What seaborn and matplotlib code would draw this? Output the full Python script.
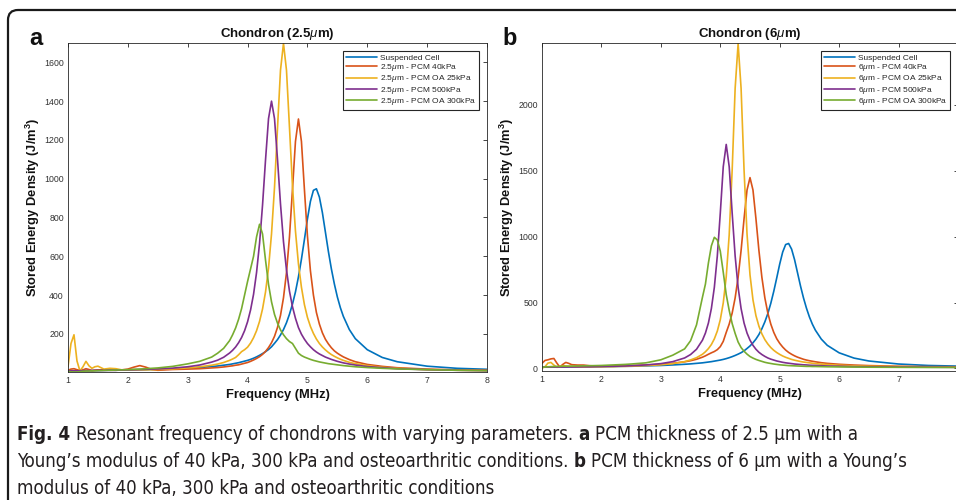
import matplotlib
matplotlib.use("Agg")
import matplotlib.pyplot as plt
import seaborn as sns
import pandas as pd
from matplotlib import font_manager
from matplotlib.patches import FancyBboxPatch
from matplotlib.transforms import IdentityTransform

# frequency grid (MHz), denser around the resonances
freq = [1.0, 1.05, 1.1, 1.15, 1.2, 1.25, 1.3, 1.35, 1.4, 1.45, 1.5, 1.6, 1.7, 1.8, 1.9, 2.0, 2.1, 2.2, 2.3, 2.4, 2.5,
        2.75, 3.0, 3.2, 3.4, 3.5, 3.6,
        3.7, 3.75, 3.8, 3.85, 3.9, 3.95, 4.0, 4.05, 4.1, 4.15, 4.2, 4.25, 4.3, 4.35, 4.4, 4.45, 4.5, 4.55, 4.6, 4.65,
        4.7, 4.75, 4.8, 4.85, 4.9, 4.95, 5.0, 5.05, 5.1, 5.15, 5.2, 5.25, 5.3, 5.35, 5.4, 5.45, 5.5, 5.55, 5.6,
        5.7, 5.8, 6.0, 6.25, 6.5, 7.0, 7.5, 8.0]

# stored energy density (J/m^3)
suspended = [10, 10, 10, 10, 10, 11, 11, 11, 11, 11, 11, 12, 12, 12, 13, 13, 14, 14, 15, 16, 16,
             19, 22, 26, 31, 34, 38,
             42, 45, 48, 51, 55, 59, 63, 68, 74, 81, 89, 98, 108, 119, 133, 151, 170, 194, 222, 257,
             301, 353, 416, 494, 585, 687, 792, 883, 940, 948, 905, 825, 725, 625, 535, 457, 390, 335, 290,
             222, 175, 118, 78, 56, 33, 22, 17]

a_pcm40 = [12, 18, 20, 15, 10, 14, 20, 16, 10, 12, 14, 14, 12, 12, 14, 18, 28, 36, 28, 16, 12,
           16, 18, 20, 24, 26, 29,
           33, 35, 38, 40, 44, 48, 52, 58, 65, 73, 82, 94, 109, 129, 154, 187, 233, 295, 386, 515,
           700, 943, 1192, 1308, 1192, 943, 705, 525, 400, 310, 250, 205, 172, 148, 128, 112, 100, 90, 81,
           67, 56, 42, 32, 25, 18, 14, 12]
a_oa25 = [30, 150, 195, 60, 8, 30, 58, 35, 22, 30, 33, 18, 22, 20, 14, 14, 14, 14, 14, 15, 16,
          19, 24, 30, 38, 44, 52,
          63, 70, 78, 92, 108, 118, 131, 152, 180, 216, 264, 328, 416, 539, 715, 955, 1261, 1560, 1698, 1560,
          1265, 965, 730, 560, 440, 350, 285, 238, 202, 173, 150, 132, 117, 104, 93, 84, 76, 69, 63,
          53, 46, 36, 27, 22, 15, 12, 10]
a_pcm500 = [9, 9, 9, 9, 10, 10, 10, 10, 10, 11, 11, 11, 12, 12, 13, 14, 15, 16, 17, 18, 19,
            23, 30, 39, 54, 64, 79,
            101, 115, 132, 154, 181, 216, 262, 323, 404, 516, 666, 864, 1097, 1310, 1400, 1310, 1100, 870, 675, 530,
            420, 340, 280, 232, 198, 172, 150, 133, 118, 106, 96, 88, 80, 74, 68, 63, 58, 54, 50,
            44, 39, 31, 25, 20, 15, 12, 10]
a_oa300 = [6, 4, 3, 3, 5, 7, 8, 8, 9, 9, 10, 11, 12, 13, 14, 15, 17, 18, 20, 22, 24,
           32, 45, 58, 80, 100, 125,
           165, 195, 230, 275, 330, 400, 470, 535, 600, 700, 765, 715, 580, 455, 365, 300, 255, 220, 195, 175,
           160, 150, 125, 100, 88, 80, 74, 68, 63, 59, 55, 52, 49, 46, 44, 42, 40, 38, 36,
           33, 30, 26, 22, 19, 15, 12, 10]

b_pcm40 = [38, 60, 65, 72, 75, 40, 10, 30, 45, 38, 28, 25, 25, 20, 18, 16, 17, 18, 19, 20, 21,
           25, 31, 38, 50, 58, 69,
           85, 95, 107, 118, 128, 142, 165, 205, 273, 336, 420, 535, 691, 895, 1136, 1354, 1448, 1354, 1136, 895,
           691, 535, 420, 336, 273, 225, 190, 162, 139, 121, 107, 95, 85, 77, 69, 63, 58, 54, 50,
           43, 38, 31, 25, 21, 16, 13, 12]
b_oa25 = [2, 12, 40, 45, 25, 8, 12, 20, 18, 15, 14, 11, 11, 11, 12, 12, 13, 13, 15, 15, 17,
          21, 27, 36, 51, 64, 81,
          107, 126, 150, 181, 224, 283, 369, 497, 696, 1014, 1506, 2126, 2465, 2126, 1506, 1020, 710, 520, 400, 320,
          262, 218, 185, 158, 137, 120, 106, 94, 84, 76, 68, 62, 57, 52, 48, 45, 42, 39, 36,
          32, 29, 24, 19, 16, 13, 11, 9]
b_pcm500 = [9, 9, 9, 9, 10, 10, 10, 10, 10, 11, 11, 11, 12, 12, 13, 14, 15, 16, 17, 18, 20,
            26, 36, 51, 79, 105, 145,
            214, 268, 344, 454, 615, 853, 1178, 1531, 1700, 1531, 1178, 853, 615, 454, 344, 268, 214, 175, 145, 122,
            105, 91, 79, 70, 63, 56, 51, 46, 42, 39, 36, 33, 31, 29, 27, 26, 24, 23, 22,
            20, 18, 16, 13, 12, 10, 9, 8]
b_oa300 = [8, 10, 12, 13, 14, 15, 15, 16, 16, 17, 17, 18, 19, 20, 21, 22, 24, 26, 28, 30, 33,
           42, 65, 100, 148, 210, 330,
           540, 640, 800, 930, 995, 975, 890, 730, 560, 440, 340, 265, 200, 158, 130, 108, 90, 78, 68, 60,
           53, 46, 41, 37, 33, 30, 27, 25, 23, 21, 20, 19, 18, 17, 16, 15, 15, 14, 14,
           13, 12, 11, 10, 9, 8, 7, 7]

labels_a = ['Suspended Cell', '2.5$\\mu$m - PCM 40kPa', '2.5$\\mu$m - PCM OA 25kPa',
            '2.5$\\mu$m - PCM 500kPa', '2.5$\\mu$m - PCM OA 300kPa']
labels_b = ['Suspended Cell', '6$\\mu$m - PCM 40kPa', '6$\\mu$m - PCM OA 25kPa',
            '6$\\mu$m - PCM 500kPa', '6$\\mu$m - PCM OA 300kPa']
colors = ['#0072BD', '#D95319', '#EDB120', '#7E2F8E', '#77AC30']

caption_lines = [
    [('Fig. 4', 'bold'), (' Resonant frequency of chondrons with varying parameters. ', 'normal'),
     ('a', 'bold'), (' PCM thickness of 2.5 \u00b5m with a', 'normal')],
    [('Young\u2019s modulus of 40 kPa, 300 kPa and osteoarthritic conditions. ', 'normal'),
     ('b', 'bold'), (' PCM thickness of 6 \u00b5m with a Young\u2019s', 'normal')],
    [('modulus of 40 kPa, 300 kPa and osteoarthritic conditions', 'normal')],
]

sns.set_theme(style="white")
plt.rcParams['font.family'] = ['Liberation Sans', 'DejaVu Sans']
plt.rcParams['mathtext.fontset'] = 'custom'
plt.rcParams['mathtext.it'] = 'Liberation Sans:italic'
plt.rcParams['mathtext.rm'] = 'Liberation Sans'
plt.rcParams['mathtext.bf'] = 'Liberation Sans:bold'

W, H = 956, 500
fig = plt.figure(figsize=(W / 100, H / 100), dpi=100)
ax_a = fig.add_axes([68 / W, 128 / H, 419 / W, 329 / H])
ax_b = fig.add_axes([542 / W, 129 / H, 416 / W, 328 / H])

ink = '#262626'


def draw_panel(ax, series, labels, title, ylim, yticks):
    df = pd.DataFrame({'freq': freq})
    for vals, lbl, col in zip(series, labels, colors):
        df['v'] = vals
        sns.lineplot(data=df, x='freq', y='v', color=col, label=lbl, linewidth=1.2, ax=ax)
    ax.set_xlim(1, 8)
    ax.set_ylim(*ylim)
    ax.set_xticks(range(1, 9))
    ax.set_yticks(yticks)
    ax.tick_params(direction='in', top=True, right=True, length=3, width=0.6,
                   colors=ink, labelsize=6.3, labelcolor='#333333', pad=3)
    for sp in ax.spines.values():
        sp.set_color(ink)
        sp.set_linewidth(0.6)
    ax.set_title(title, fontsize=9.5, fontweight='bold', pad=4, color='#111111')
    ax.set_xlabel('Frequency (MHz)', fontsize=9.3, fontweight='bold', color='#111111')
    ax.set_ylabel('Stored Energy Density (J/m$^{\\mathbf{3}}$)', fontsize=9.3, fontweight='bold', color='#111111')
    ax.xaxis.set_label_coords(0.5, -0.052)
    ax.yaxis.set_label_coords(-0.062, 0.5)
    leg = ax.legend(loc='upper right', fontsize=6, frameon=True, fancybox=False, edgecolor=ink,
                    framealpha=1, handlelength=3.8, handletextpad=0.3, labelspacing=0.05,
                    borderpad=0.3, borderaxespad=1.0)
    leg.get_frame().set_linewidth(0.8)


draw_panel(ax_a, [suspended, a_pcm40, a_oa25, a_pcm500, a_oa300], labels_a,
           'Chondron (2.5$\\mu$m)', (3, 1700), [200, 400, 600, 800, 1000, 1200, 1400, 1600])
draw_panel(ax_b, [suspended, b_pcm40, b_oa25, b_pcm500, b_oa300], labels_b,
           'Chondron (6$\\mu$m)', (-20, 2470), [0, 500, 1000, 1500, 2000])

fig.text(29 / W, 1 - 45 / H, 'a', fontsize=17, fontweight='bold', va='baseline', color='#111111')
fig.text(502 / W, 1 - 45 / H, 'b', fontsize=17, fontweight='bold', va='baseline', color='#111111')

# rounded frame around the figure panel
frame = FancyBboxPatch((8, -60), 1100, 550, boxstyle='round,pad=0,rounding_size=10',
                       transform=IdentityTransform(), fill=False, lw=1.6, ec='#1a1a1a')
fig.add_artist(frame)

# caption, with bold "Fig. 4", "a", "b"
names = {f.name for f in font_manager.fontManager.ttflist}
if 'Liberation Sans Narrow' in names:
    cap_font, cap_stretch = 'Liberation Sans Narrow', 'normal'
else:
    cap_font, cap_stretch = 'DejaVu Sans', 'condensed'
cap_size = 13.4
renderer = fig.canvas.get_renderer()


def measure(txt):
    t = fig.text(0, 0, txt, fontsize=cap_size, fontfamily=cap_font, fontstretch=cap_stretch)
    w = t.get_window_extent(renderer).width
    t.remove()
    return w


space_w = measure('x x') - measure('xx')
for line, yb in zip(caption_lines, [440, 467, 494]):
    x = 17
    for txt, weight in line:
        if txt.startswith(' '):
            x += space_w
        t = fig.text(x / W, 1 - yb / H, txt.strip(), fontsize=cap_size, fontfamily=cap_font,
                     fontstretch=cap_stretch, fontweight=weight, va='baseline', ha='left', color='#231f20')
        x = t.get_window_extent(renderer).x1
        if txt.endswith(' '):
            x += space_w

plt.savefig('out.png', dpi=100)
plt.close()
